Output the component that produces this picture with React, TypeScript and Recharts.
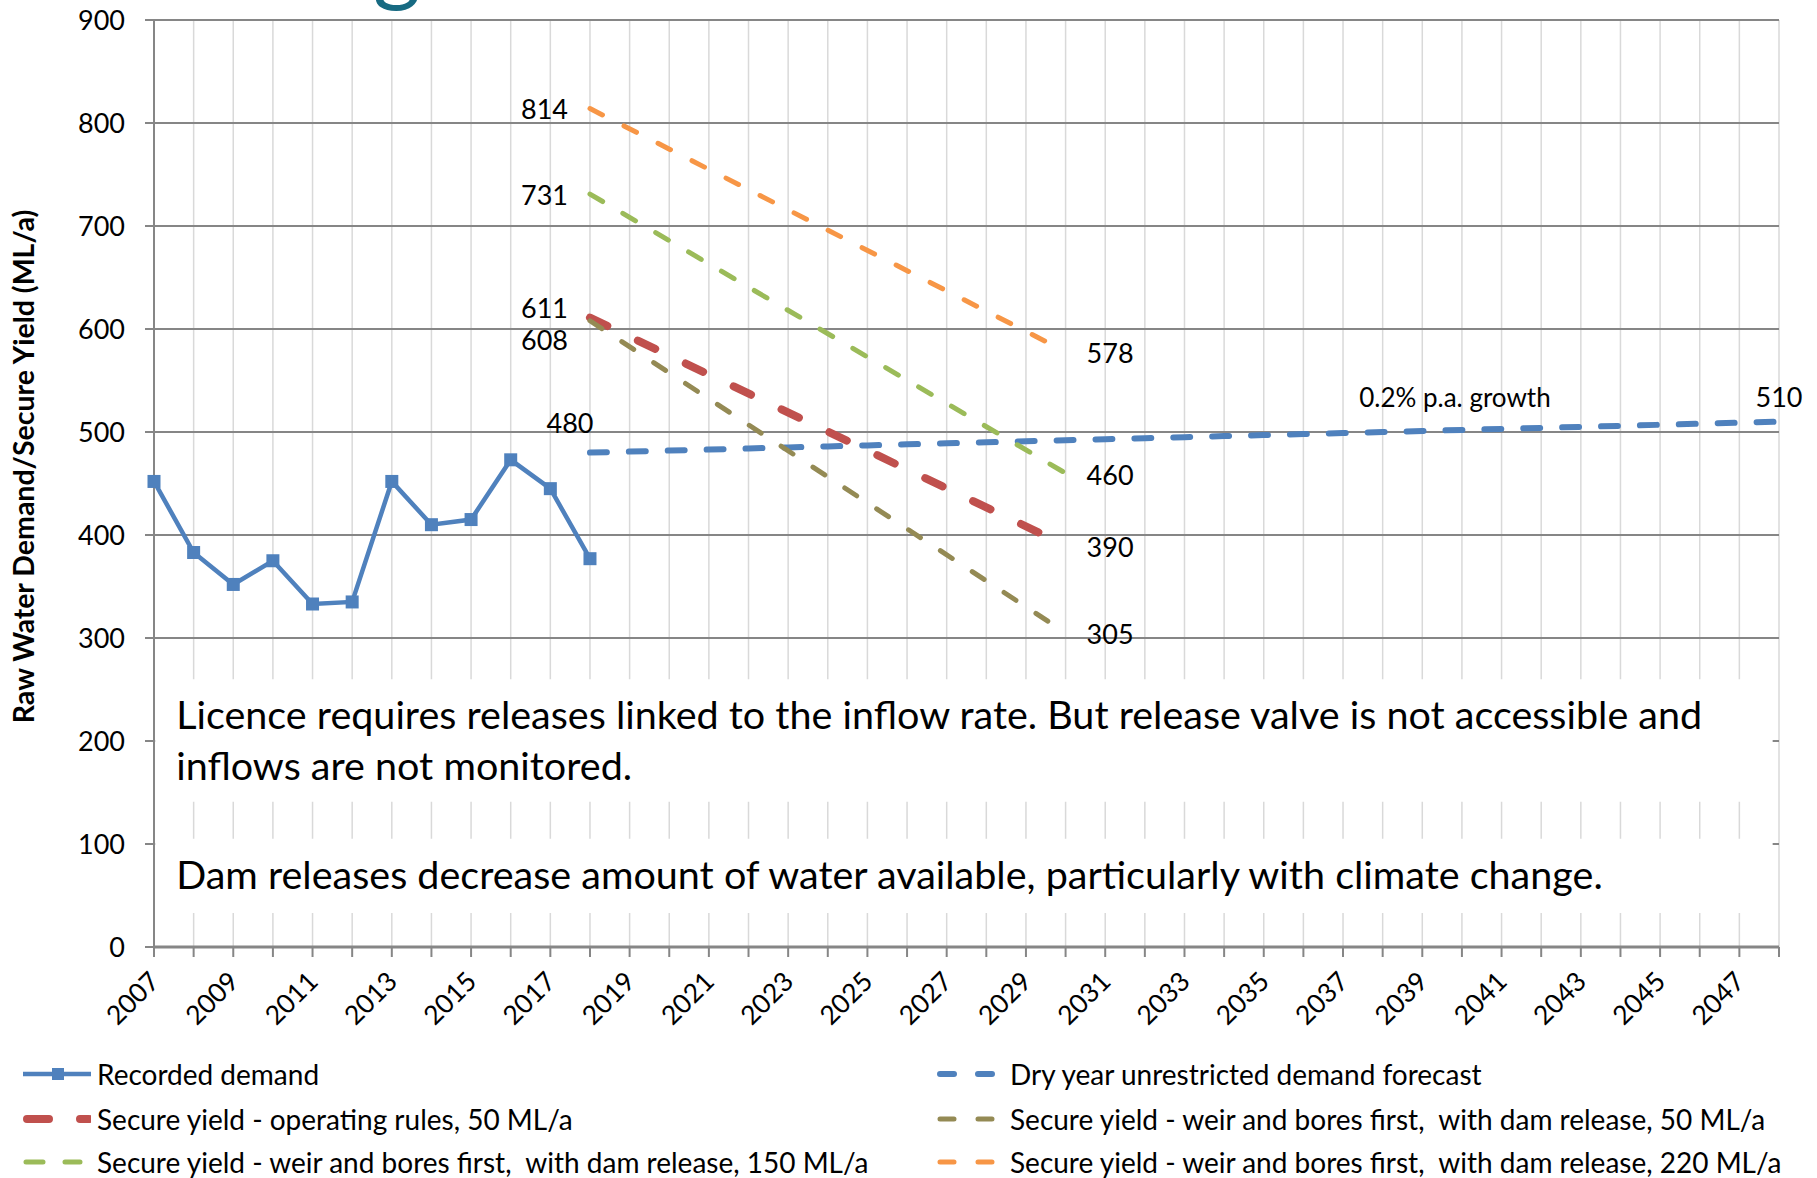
import React from "react";
import {
  LineChart,
  Line,
  XAxis,
  YAxis,
  CartesianGrid,
  ReferenceArea,
  Legend,
  LabelList,
} from "recharts";

const YEARS = [
  2007, 2008, 2009, 2010, 2011, 2012, 2013, 2014, 2015, 2016, 2017, 2018, 2019, 2020,
  2021, 2022, 2023, 2024, 2025, 2026, 2027, 2028, 2029, 2030, 2031, 2032, 2033, 2034,
  2035, 2036, 2037, 2038, 2039, 2040, 2041, 2042, 2043, 2044, 2045, 2046, 2047, 2048,
];
const Y_TICKS = [0, 100, 200, 300, 400, 500, 600, 700, 800, 900];

const DEMAND_YEARS = [2007, 2008, 2009, 2010, 2011, 2012, 2013, 2014, 2015, 2016, 2017, 2018];
const DEMAND = [452, 383, 352, 375, 333, 335, 452, 410, 415, 473, 445, 377];

const FORECAST_YEARS = [
  2018, 2019, 2020, 2021, 2022, 2023, 2024, 2025, 2026, 2027, 2028, 2029, 2030, 2031, 2032,
  2033, 2034, 2035, 2036, 2037, 2038, 2039, 2040, 2041, 2042, 2043, 2044, 2045, 2046, 2047, 2048,
];
const FORECAST = [
  480, 481, 482, 483, 484, 485, 486, 487, 488, 489, 490, 491, 492, 493, 494,
  495, 496, 497, 498, 499, 500, 501, 502, 503, 504, 505, 506, 507, 508, 509, 510,
];

const YIELD_YEARS = [2018, 2030];
const YIELD_RULES_50 = [611, 390];
const YIELD_WEIR_50 = [608, 305];
const YIELD_WEIR_150 = [731, 460];
const YIELD_WEIR_220 = [814, 578];

const NOTE_1 = [
  "Licence requires releases linked to the inflow rate. But release valve is not accessible and",
  "inflows are not monitored.",
];
const NOTE_2 = "Dam releases decrease amount of water available, particularly with climate change.";
const GROWTH_NOTE = "0.2% p.a. growth";
const GROWTH_NOTE_YEAR = 2040;

const FONT = "Lato, 'Open Sans', sans-serif";
const AXIS_GREY = "#868686";

const toRows = (years: number[], values: number[]) =>
  years.map((year, i) => ({ year, value: values[i] }));

// icon = [start, end, dasharray] of the legend swatch for dashed series
const SERIES = [
  { key: "demand", name: "Recorded demand", color: "#4F81BD", width: 4.5, dash: undefined },
  { key: "forecast", name: "Dry year unrestricted demand forecast", color: "#4F81BD", width: 6, dash: "16.9 22", icon: [3, 55, "14 24"] },
  { key: "rules50", name: "Secure yield - operating rules, 50 ML/a", color: "#C0504D", width: 8, dash: "19.2 33.9", icon: [4, 66, "22 31"] },
  { key: "weir50", name: "Secure yield - weir and bores first,  with dam release, 50 ML/a", color: "#948A54", width: 5, dash: "14.2 23.9", icon: [3, 55, "14 24"] },
  { key: "weir150", name: "Secure yield - weir and bores first,  with dam release, 150 ML/a", color: "#9BBB59", width: 5, dash: "14.7 23.4", icon: [3, 57, "17 22"] },
  { key: "weir220", name: "Secure yield - weir and bores first,  with dam release, 220 ML/a", color: "#F79646", width: 5, dash: "14 24.2", icon: [3, 55, "14 24"] },
];

const LEGEND_ROW_CENTERS = [22, 66.5, 110];

const valueText = (x: number, y: number, v: any, anchor: string, size = 27) => (
  <text
    x={x}
    y={y}
    textAnchor={anchor}
    dominantBaseline="central"
    fontFamily={FONT}
    fontSize={size}
    fill="#000"
  >
    {v}
  </text>
);

const yieldLabel = (startDy: number) => (p: any) => {
  if (p.index === 0) return valueText(p.x - 22, p.y + startDy, p.value, "end");
  return valueText(p.x + 21, p.y + 1, p.value, "start");
};

const forecastLabel = (p: any) => {
  const yr = FORECAST_YEARS[p.index];
  if (p.index === 0) return valueText(p.x - 20, p.y - 30, p.value, "middle");
  if (p.index === FORECAST_YEARS.length - 1) return valueText(p.x, p.y - 25, p.value, "middle");
  if (yr === GROWTH_NOTE_YEAR) return valueText(p.x - 7, p.y - 33, GROWTH_NOTE, "middle", 26);
  return null;
};

const XTick = (p: any) => {
  const yr = p.payload.value;
  if (yr % 2 === 0) return <g />;
  const ax = p.x;
  const ay = p.y + 19;
  return (
    <text
      x={ax}
      y={ay}
      textAnchor="end"
      dominantBaseline="central"
      transform={`rotate(-45, ${ax}, ${ay})`}
      fontFamily={FONT}
      fontSize={26.5}
      fill="#000"
    >
      {yr}
    </text>
  );
};

const SquareDot = (p: any) => (
  <rect key={`sq-${p.index}`} x={p.cx - 6.5} y={p.cy - 6.5} width={13} height={13} fill="#4F81BD" />
);

const noteBox = (lines: string[]) => (p: any) => {
  const vb = p.viewBox;
  return (
    <text x={vb.x + 21} y={vb.y + 50} fontFamily={FONT} fontSize={39.5} fill="#000">
      {lines.map((l, i) => (
        <tspan key={i} x={vb.x + 21} dy={i === 0 ? 0 : 51}>
          {l}
        </tspan>
      ))}
    </text>
  );
};

const yLabel = (p: any) => {
  const vb = p.viewBox;
  const cx = vb.x + 23;
  const cy = vb.y + vb.height / 2 - 17;
  return (
    <text
      x={cx}
      y={cy}
      transform={`rotate(-90, ${cx}, ${cy})`}
      textAnchor="middle"
      dominantBaseline="central"
      fontFamily={FONT}
      fontWeight={700}
      fontSize={28.5}
      fill="#000"
    >
      Raw Water Demand/Secure Yield (ML/a)
    </text>
  );
};

const LegendIcon = ({ s }: { s: any }) => {
  if (!s.icon) {
    return (
      <svg width={68} height={20}>
        <line x1={0} y1={10} x2={68} y2={10} stroke={s.color} strokeWidth={4.5} />
        <rect x={29} y={4} width={12} height={12} fill={s.color} />
      </svg>
    );
  }
  const [a, b, dash] = s.icon;
  return (
    <svg width={68} height={20}>
      <line
        x1={a}
        y1={10}
        x2={b}
        y2={10}
        stroke={s.color}
        strokeWidth={s.width}
        strokeDasharray={dash}
        strokeLinecap="round"
      />
    </svg>
  );
};

const LegendBlock = () => (
  <div
    style={{
      position: "relative",
      width: 1817,
      height: 126,
      fontFamily: FONT,
      fontSize: 28,
      color: "#000",
    }}
  >
    {SERIES.map((s, i) => {
      const col = i % 2;
      const row = Math.floor(i / 2);
      return (
        <div
          key={s.key}
          style={{
            position: "absolute",
            left: col === 0 ? 23 : 937,
            top: LEGEND_ROW_CENTERS[row] - 15,
            height: 30,
            lineHeight: "30px",
            display: "flex",
            alignItems: "center",
            whiteSpace: "pre",
          }}
        >
          <LegendIcon s={s} />
          <span style={{ marginLeft: col === 0 ? 6 : 5 }}>{s.name}</span>
        </div>
      );
    })}
  </div>
);

export default function App() {
  const series = [
    toRows(DEMAND_YEARS, DEMAND),
    toRows(FORECAST_YEARS, FORECAST),
    toRows(YIELD_YEARS, YIELD_RULES_50),
    toRows(YIELD_YEARS, YIELD_WEIR_50),
    toRows(YIELD_YEARS, YIELD_WEIR_150),
    toRows(YIELD_YEARS, YIELD_WEIR_220),
  ];
  const startDy = [0, 0, -10, 19, 0, 0];

  return (
    <div
      style={{
        position: "absolute",
        left: 0,
        top: 0,
        width: 1817,
        height: 1178,
        background: "#fff",
        overflow: "hidden",
      }}
    >
      <LineChart width={1817} height={1178} margin={{ top: 20, right: 38, left: 0, bottom: 0 }}>
        <CartesianGrid horizontal={false} stroke="#D9D9D9" strokeWidth={1.5} />
        <CartesianGrid vertical={false} stroke={AXIS_GREY} strokeWidth={2} />
        <XAxis
          type="number"
          dataKey="year"
          domain={[2007, 2048]}
          ticks={YEARS}
          interval={0}
          height={105}
          tickSize={10}
          tickMargin={0}
          axisLine={{ stroke: AXIS_GREY, strokeWidth: 3 }}
          tickLine={{ stroke: AXIS_GREY, strokeWidth: 2 }}
          tick={<XTick />}
          allowDuplicatedCategory={false}
        />
        <YAxis
          type="number"
          domain={[0, 900]}
          ticks={Y_TICKS}
          interval={0}
          width={154}
          tickSize={9}
          tickMargin={20}
          axisLine={{ stroke: AXIS_GREY, strokeWidth: 2 }}
          tickLine={{ stroke: AXIS_GREY, strokeWidth: 2 }}
          tick={{ fontFamily: FONT, fontSize: 27, fill: "#000" }}
          label={yLabel}
        />
        <ReferenceArea
          x1={2007.03}
          x2={2047.84}
          y1={141}
          y2={260}
          fill="#fff"
          fillOpacity={1}
          stroke="none"
          label={noteBox(NOTE_1)}
        />
        <ReferenceArea
          x1={2007.03}
          x2={2047.84}
          y1={33}
          y2={105}
          fill="#fff"
          fillOpacity={1}
          stroke="none"
          label={noteBox([NOTE_2])}
        />
        {SERIES.map((s, i) => (
          <Line
            key={s.key}
            data={series[i]}
            dataKey="value"
            name={s.name}
            type="linear"
            stroke={s.color}
            strokeWidth={s.width}
            strokeDasharray={s.dash}
            strokeLinecap={s.dash ? "round" : "butt"}
            dot={s.dash ? false : SquareDot}
            activeDot={false}
            isAnimationActive={false}
          >
            {i === 1 && <LabelList dataKey="value" content={forecastLabel} />}
            {i >= 2 && <LabelList dataKey="value" content={yieldLabel(startDy[i])} />}
          </Line>
        ))}
        <Legend
          verticalAlign="bottom"
          content={() => <LegendBlock />}
          wrapperStyle={{ left: 0, bottom: 0, width: 1817, height: 126 }}
        />
      </LineChart>
      <svg
        width={80}
        height={20}
        style={{ position: "absolute", left: 357, top: 0, pointerEvents: "none" }}
      >
        <text x={40} y={-6} textAnchor="middle" fontFamily={FONT} fontSize={92} fill="#176A82">
          g
        </text>
      </svg>
    </div>
  );
}
